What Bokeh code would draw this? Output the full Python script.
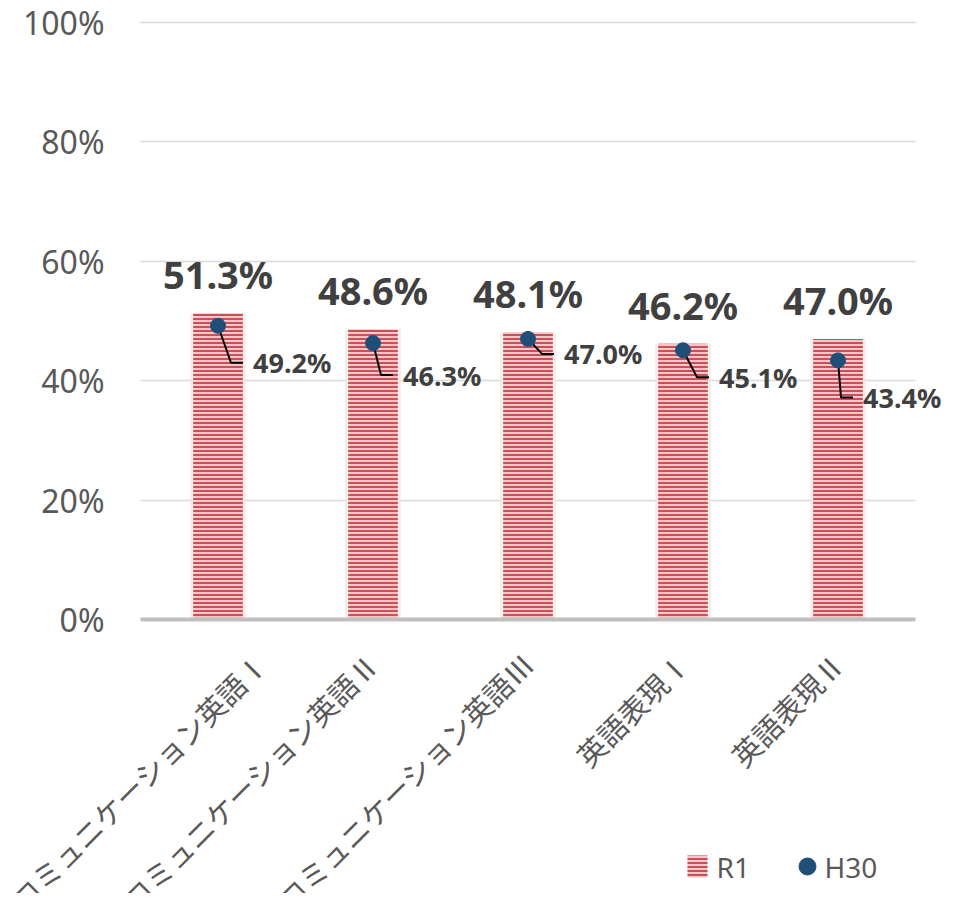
import math
from bokeh.plotting import figure
from bokeh.models import Range1d, NumeralTickFormatter, FixedTicker, ColumnDataSource
from bokeh.core.properties import value
from bokeh.embed import file_html
from bokeh.resources import INLINE

# ---- data ----
categories = ["コミュニケーション英語Ⅰ", "コミュニケーション英語Ⅱ", "コミュニケーション英語Ⅲ",
              "英語表現Ⅰ", "英語表現Ⅱ"]
r1_values = [0.513, 0.486, 0.481, 0.462, 0.470]
h30_values = [0.492, 0.463, 0.470, 0.451, 0.434]
y_ticks = [0, 0.2, 0.4, 0.6, 0.8, 1.0]
series_names = ["R1", "H30"]

# ---- styling / label placement (screen px) ----
leader_dx = [13, 8, 14, 14, 3]      # corner offset x from point
leader_dy = [37, 32, 15, 27, 37]    # corner offset y (down) from point
PX_Y = 597.0   # px per 1.0 in y
PX_X = 155.0   # px per category
BAR_FILL, BAR_HATCH = "#f4c6c6", "#c9505a"
DOT = "#1f4e79"

W, H = 947, 893
TOP, LEFT, RIGHT_EDGE = 22, 140, 915
n = len(categories)
xpos = [i + 0.5 for i in range(n)]


def dx(px):
    return (px - LEFT) / PX_X


def dy(py):
    return (TOP + PX_Y - py) / PX_Y


p = figure(x_range=Range1d(dx(0), dx(W)), y_range=Range1d(dy(H), dy(0)),
           width=W, height=H, output_backend="svg", toolbar_location=None,
           min_border_left=0, min_border_right=0, min_border_top=0,
           min_border_bottom=0)
p.outline_line_color = None
p.background_fill_color = "white"
p.border_fill_color = "white"

# grid
p.xgrid.grid_line_color = None
p.yaxis.ticker = FixedTicker(ticks=y_ticks)
p.ygrid.cross_bounds = (0, n)
p.ygrid.grid_line_color = "#d9d9d9"
p.ygrid.grid_line_width = 1.5

ya = p.yaxis[0]
ya.fixed_location = 0
ya.formatter = NumeralTickFormatter(format="0%")
ya.axis_line_color = None
ya.major_tick_line_color = None
ya.minor_tick_line_color = None
ya.major_tick_in = 0
ya.major_tick_out = 0
ya.major_label_standoff = 36
ya.major_label_text_font = "Noto Sans"
ya.major_label_text_font_size = "32px"
ya.major_label_text_color = "#595959"

xa = p.xaxis[0]
xa.ticker = FixedTicker(ticks=xpos)
xa.major_label_overrides = {x: c for x, c in zip(xpos, categories)}
xa.fixed_location = 0
xa.bounds = (0, n)
xa.axis_line_color = "#bfbfbf"
xa.axis_line_width = 4
xa.major_tick_line_color = None
xa.minor_tick_line_color = None
xa.major_tick_in = 0
xa.major_tick_out = 0
xa.major_label_orientation = math.pi / 4
xa.major_label_standoff = 38
xa.major_label_text_font = "Noto Sans CJK JP"
xa.major_label_text_font_size = "29px"
xa.major_label_text_color = "#595959"

src = ColumnDataSource(dict(x=xpos, r1=r1_values, h30=h30_values))

# faint glow behind bars
p.vbar(x="x", top="r1", bottom=0, width=0.36, source=src, fill_color="#fbe3e3",
       fill_alpha=0.7, line_color=None)
bars = p.vbar(x="x", top="r1", bottom=0, width=0.32, source=src,
              fill_color=BAR_FILL, line_color=None,
              hatch_pattern="horizontal_line", hatch_color=BAR_HATCH,
              hatch_scale=4, hatch_weight=2)

# leader lines
xs, ys = [], []
lx, ly, ltxt = [], [], []
for i, v in enumerate(h30_values):
    cx = xpos[i]
    x1, y1 = cx + leader_dx[i] / PX_X, v - leader_dy[i] / PX_Y
    x2 = x1 + 12 / PX_X
    xs.append([cx, x1, x2])
    ys.append([v, y1, y1])
    lx.append(x1 + 22 / PX_X)
    ly.append(y1)
    ltxt.append(f"{v*100:.1f}%")
p.multi_line(xs=xs, ys=ys, line_color="black", line_width=2)

pts = p.scatter(x="x", y="h30", source=src, size=15, fill_color=DOT,
                line_color=DOT, marker="circle")

# point labels
p.text(x=lx, y=ly, text=ltxt, text_font=value("Noto Sans"), text_font_style="bold",
       text_font_size="27px", text_color="#404040", text_align="left",
       text_baseline="middle")

# bar labels
p.text(x=xpos, y=[v + 39 / PX_Y for v in r1_values],
       text=[f"{v*100:.1f}%" for v in r1_values],
       text_font=value("Noto Sans"), text_font_style="bold",
       text_font_size="38px", text_color="#404040", text_align="center",
       text_baseline="alphabetic")

# legend (drawn manually so the marker sizes match)
p.quad(left=[dx(687)], right=[dx(707)], bottom=[dy(877)], top=[dy(855)],
       fill_color=BAR_FILL, line_color=None, hatch_pattern="horizontal_line",
       hatch_color=BAR_HATCH, hatch_scale=4, hatch_weight=2)
p.scatter(x=[dx(807)], y=[dy(866)], size=17, marker="circle",
          fill_color=DOT, line_color=DOT)
p.text(x=[dx(716), dx(824)], y=[dy(866), dy(866)], text=series_names,
       text_font=value("Noto Sans"), text_font_size="28px", text_color="#595959",
       text_align="left", text_baseline="middle")

open("out.html", "w").write(file_html(p, INLINE))
